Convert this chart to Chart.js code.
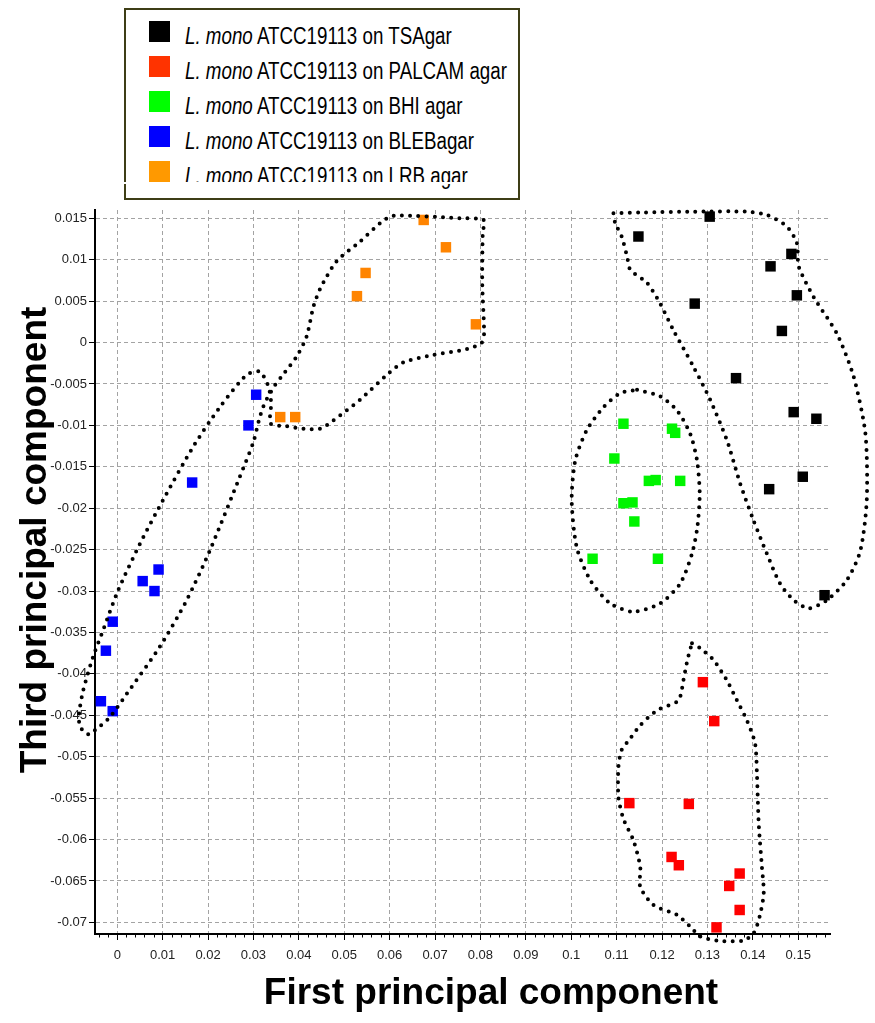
<!DOCTYPE html>
<html>
<head>
<meta charset="utf-8">
<script src="https://cdn.jsdelivr.net/npm/chart.js@4/dist/chart.umd.min.js"></script>
<style>
  html, body { margin: 0; padding: 0; background: #fff; }
  #wrap { position: relative; width: 875px; height: 1023px; }
  #c { position: absolute; left: 0; top: 0; }
  #legend { position: absolute; left: 124px; top: 8px; width: 392px; height: 188px;
            border: 2.5px solid #3e3e16; background: #fff; }
  .mk { position: absolute; left: 23px; width: 21px; height: 21px; }
  .tx { position: absolute; left: 59px; font-family: 'Liberation Sans', Arial, sans-serif;
        font-size: 23px; line-height: 24px; color: #000; white-space: nowrap;
        transform: scaleX(0.815); transform-origin: 0 50%; }
  #cut { position: absolute; left: 120px; top: 182px; width: 392px; height: 2px; background: #fff; }
</style>
</head>
<body>
<div id="wrap">
  <canvas id="c" width="875" height="1023"></canvas>
  <div id="legend"></div>
  <div id="cut"></div>
</div>
<script>
// ---------- data ----------
const seriesLabels = ['on TSAgar', 'on PALCAM agar', 'on BHI agar', 'on BLEBagar', 'on LRB agar'];
const strainItalic = 'L. mono';
const strainName = 'ATCC19113';
const legendColors = ['#000000', '#ff3300', '#00ff00', '#0000ff', '#ff9900'];
const pointColors = ['#000000', '#ff0000', '#00f400', '#0000ff', '#ff8400'];

const tsaX = [0.1305, 0.1148, 0.1485, 0.1439, 0.1497, 0.1272, 0.1464, 0.1363, 0.1490, 0.1540, 0.1510, 0.1436, 0.1558];
const tsaY = [0.0152, 0.0128, 0.0107, 0.0092, 0.0057, 0.0047, 0.0014, -0.0043, -0.0084, -0.0092, -0.0162, -0.0177, -0.0305];

const palcamX = [0.1290, 0.1315, 0.1128, 0.1259, 0.1221, 0.1237, 0.1371, 0.1348, 0.1371, 0.1320];
const palcamY = [-0.0410, -0.0457, -0.0556, -0.0557, -0.0621, -0.0631, -0.0641, -0.0656, -0.0685, -0.0706];

const bhiX = [0.1115, 0.1222, 0.1229, 0.1095, 0.1171, 0.1186, 0.1240, 0.1115, 0.1135, 0.1139, 0.1047, 0.1191];
const bhiY = [-0.0098, -0.0104, -0.0109, -0.0140, -0.0167, -0.0166, -0.0167, -0.0194, -0.0193, -0.0216, -0.0261, -0.0261];

const blebX = [0.0306, 0.0289, 0.0165, 0.0091, 0.0056, 0.0082, -0.0010, -0.0025, -0.0036, -0.0010];
const blebY = [-0.0063, -0.0100, -0.0169, -0.0274, -0.0288, -0.0300, -0.0337, -0.0372, -0.0433, -0.0445];

const lrbX = [0.0675, 0.0724, 0.0547, 0.0528, 0.0790, 0.0359, 0.0392];
const lrbY = [0.0148, 0.0115, 0.0084, 0.0056, 0.0022, -0.0090, -0.0090];

// hand-drawn dotted enclosures (data space)
const loopBlueOrangeX = [-0.0064, -0.0082, -0.0084, -0.0075, -0.0053, -0.0031, 0.0002, 0.0050, 0.0101, 0.0167, 0.0226, 0.0285, 0.0314, 0.0333, 0.0339, 0.0338,
  0.0373, 0.0410, 0.0447, 0.0476, 0.0535, 0.0590, 0.0630, 0.0696, 0.0770, 0.0803, 0.0808, 0.0804, 0.0805, 0.0807, 0.0755, 0.0608,
  0.0579, 0.0535, 0.0483, 0.0447, 0.0432, 0.0417, 0.0395, 0.0362, 0.0348, 0.0325, 0.0313, 0.0300, 0.0270, 0.0204, 0.0153, 0.0094, 0.0021, -0.0016, -0.0049, -0.0064];
const loopBlueOrangeY = [-0.0473, -0.0464, -0.0448, -0.0420, -0.0379, -0.0347, -0.0299, -0.0243, -0.0190, -0.0126, -0.0078, -0.0039, -0.0035, -0.0053, -0.0073, -0.0098,
  -0.0101, -0.0104, -0.0104, -0.0094, -0.0069, -0.0041, -0.0024, -0.0015, -0.0008, 0.0000, 0.0011, 0.0071, 0.0132, 0.0148, 0.0150, 0.0153,
  0.0144, 0.0122, 0.0098, 0.0065, 0.0043, 0.0007, -0.0017, -0.0041, -0.0051, -0.0073, -0.0092, -0.0120, -0.0162, -0.0251, -0.0311, -0.0367, -0.0424, -0.0452, -0.0468, -0.0473];

const loopBlackX = [0.1093, 0.1097, 0.1111, 0.1123, 0.1130, 0.1167, 0.1196, 0.1225, 0.1269, 0.1306, 0.1343, 0.1372, 0.1401, 0.1431, 0.1460, 0.1490, 0.1523,
  0.1563, 0.1607, 0.1637, 0.1651, 0.1648, 0.1622, 0.1585, 0.1534, 0.1501, 0.1497, 0.1475, 0.1431, 0.1387, 0.1269, 0.1159, 0.1093];
const loopBlackY = [0.0156, 0.0144, 0.0128, 0.0104, 0.0088, 0.0072, 0.0047, 0.0015, -0.0029, -0.0069, -0.0118, -0.0170, -0.0214, -0.0255, -0.0291, -0.0311, -0.0321,
  -0.0311, -0.0287, -0.0251, -0.0190, -0.0110, -0.0041, 0.0011, 0.0055, 0.0092, 0.0120, 0.0140, 0.0154, 0.0158, 0.0158, 0.0157, 0.0156];

const loopGreenX = [0.1145, 0.1196, 0.1233, 0.1262, 0.1277, 0.1283, 0.1278, 0.1266, 0.1240, 0.1196, 0.1137, 0.1086, 0.1042, 0.1012, 0.1001, 0.1009, 0.1034, 0.1071, 0.1108, 0.1145];
const loopGreenY = [-0.0057, -0.0065, -0.0082, -0.0110, -0.0142, -0.0182, -0.0222, -0.0255, -0.0291, -0.0315, -0.0325, -0.0315, -0.0287, -0.0247, -0.0190, -0.0142, -0.0106, -0.0078, -0.0061, -0.0057];

const loopRedX = [0.1266, 0.1284, 0.1313, 0.1343, 0.1365, 0.1387, 0.1405, 0.1409, 0.1413, 0.1420, 0.1424, 0.1415, 0.1402, 0.1379, 0.1321, 0.1284, 0.1262,
  0.1233, 0.1181, 0.1152, 0.1152, 0.1137, 0.1115, 0.1104, 0.1104, 0.1111, 0.1130, 0.1152, 0.1189, 0.1236, 0.1247, 0.1256, 0.1266];
const loopRedY = [-0.0363, -0.0369, -0.0383, -0.0408, -0.0432, -0.0456, -0.0484, -0.0520, -0.0581, -0.0633, -0.0665, -0.0693, -0.0713, -0.0722, -0.0722, -0.0717, -0.0705,
  -0.0691, -0.0679, -0.0657, -0.0633, -0.0601, -0.0575, -0.0549, -0.0512, -0.0492, -0.0478, -0.0462, -0.0444, -0.0432, -0.0408, -0.0383, -0.0363];

const xTicks = [0, 0.01, 0.02, 0.03, 0.04, 0.05, 0.06, 0.07, 0.08, 0.09, 0.1, 0.11, 0.12, 0.13, 0.14, 0.15];
const xTickLabels = ['0', '0.01', '0.02', '0.03', '0.04', '0.05', '0.06', '0.07', '0.08', '0.09', '0.1', '0.11', '0.12', '0.13', '0.14', '0.15'];
const yTicks = [0.015, 0.01, 0.005, 0, -0.005, -0.01, -0.015, -0.02, -0.025, -0.03, -0.035, -0.04, -0.045, -0.05, -0.055, -0.06, -0.065, -0.07];
const yTickLabels = ['0.015', '0.01', '0.005', '0', '-0.005', '-0.01', '-0.015', '-0.02', '-0.025', '-0.03', '-0.035', '-0.04', '-0.045', '-0.05', '-0.055', '-0.06', '-0.065', '-0.07'];
const xTitle = 'First principal component';
const yTitle = 'Third principal component';

// ---------- legend (HTML) ----------
const legendEl = document.getElementById('legend');
seriesLabels.forEach((lab, i) => {
  const cy = 21.5 + 35.1 * i;          // marker centre relative to box content
  const mk = document.createElement('div');
  mk.className = 'mk';
  mk.style.top = (cy - 10.5) + 'px';
  mk.style.background = legendColors[i];
  legendEl.appendChild(mk);
  const tx = document.createElement('div');
  tx.className = 'tx';
  tx.style.top = (cy - 8) + 'px';
  const it = document.createElement('i');
  it.textContent = strainItalic;
  tx.appendChild(it);
  tx.appendChild(document.createTextNode(' ' + strainName + ' ' + lab));
  legendEl.appendChild(tx);
});

// ---------- chart ----------
const zip = (xs, ys) => xs.map((x, i) => ({ x: x, y: ys[i] }));

const pointSets = [[tsaX, tsaY], [palcamX, palcamY], [bhiX, bhiY], [blebX, blebY], [lrbX, lrbY]];
const loops = [[loopBlueOrangeX, loopBlueOrangeY], [loopBlackX, loopBlackY], [loopGreenX, loopGreenY], [loopRedX, loopRedY]];

const datasets = [];
loops.forEach(([xs, ys]) => {
  datasets.push({
    data: zip(xs, ys), showLine: true, fill: false, pointRadius: 0,
    borderColor: '#000', borderWidth: 4, borderDash: [0, 8.2], borderCapStyle: 'round',
    borderJoinStyle: 'round', tension: 0.25, clip: false, order: 0
  });
});
pointSets.forEach(([xs, ys], i) => {
  datasets.push({
    label: seriesLabels[i], data: zip(xs, ys), pointStyle: 'rect', pointRadius: 7.4,
    pointBackgroundColor: pointColors[i], pointBorderWidth: 0, borderWidth: 0,
    showLine: false, clip: false, order: 1
  });
});

const tickFont = { family: "'Liberation Sans', Arial, sans-serif", size: 13 };

const extras = {
  id: 'extras',
  afterDraw(chart) {
    const ctx = chart.ctx;
    const xs = chart.scales.x;
    // minor ticks on x axis
    ctx.save();
    ctx.strokeStyle = '#000'; ctx.lineWidth = 1;
    for (let k = -2; k <= 78; k++) {
      if (k % 5 === 0) continue;
      const px = Math.round(xs.getPixelForValue(k * 0.002)) + 0.5;
      if (px < xs.left || px > xs.right) continue;
      ctx.beginPath(); ctx.moveTo(px, xs.top); ctx.lineTo(px, xs.top + 3.5); ctx.stroke();
    }
    // axis titles
    ctx.fillStyle = '#000';
    ctx.font = "bold 37px 'Liberation Sans', Arial, sans-serif";
    ctx.textAlign = 'center';
    ctx.textBaseline = 'alphabetic';
    ctx.fillText(xTitle, 491, 1004);
    ctx.translate(46, 540);
    ctx.rotate(-Math.PI / 2);
    ctx.fillText(yTitle, 0, 0);
    ctx.restore();
  }
};

new Chart(document.getElementById('c'), {
  type: 'scatter',
  data: { datasets: datasets },
  plugins: [extras],
  options: {
    responsive: false, animation: false, events: [],
    layout: { padding: { top: 210, right: 45, left: 0, bottom: 0 } },
    plugins: { legend: { display: false }, tooltip: { enabled: false }, title: { display: false } },
    scales: {
      x: {
        type: 'linear', min: -0.0049, max: 0.157,
        afterFit: s => { s.height = 89; },
        afterBuildTicks: s => { s.ticks = xTicks.map(v => ({ value: v })); },
        ticks: { font: tickFont, color: '#222', padding: 8, maxRotation: 0, autoSkip: false,
                 callback: v => xTickLabels[xTicks.indexOf(v)] },
        grid: { color: '#a3a3a3', lineWidth: 1, tickLength: 6, tickColor: '#000', tickWidth: 1 },
        border: { display: true, color: '#000', width: 2, dash: [4, 3] }
      },
      y: {
        type: 'linear', min: -0.0714, max: 0.016,
        afterFit: s => { s.width = 95; },
        afterBuildTicks: s => { s.ticks = yTicks.map(v => ({ value: v })); },
        ticks: { font: tickFont, color: '#222', padding: 2, autoSkip: false,
                 callback: v => yTickLabels[yTicks.indexOf(v)] },
        grid: { color: '#a3a3a3', lineWidth: 1, tickLength: 6, tickColor: '#000', tickWidth: 1 },
        border: { display: true, color: '#000', width: 2, dash: [4, 3] }
      }
    }
  }
});
</script>
</body>
</html>
